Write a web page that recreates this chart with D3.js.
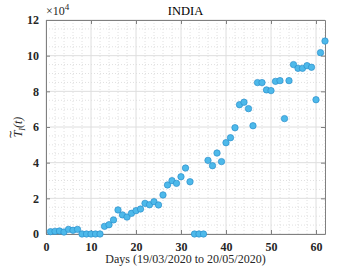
<!DOCTYPE html>
<html>
<head>
<meta charset="utf-8">
<script src="https://cdn.jsdelivr.net/npm/d3@7"></script>
<style>
  body { margin: 0; background: #fff; }
  text { font-family: "Liberation Serif", "Times New Roman", serif; }
  .tick text { font-family: "Liberation Serif", serif; font-weight: bold; font-size: 12px; fill: #262626; }
</style>
</head>
<body>
<div id="graph"></div>
<script>
// data (values in units of 1e4)
var days = d3.range(1, 63);
var values = [
  0.13, 0.15, 0.17, 0.11, 0.26, 0.21, 0.26, 0, 0, 0,
  0, 0, 0.43, 0.52, 0.79, 1.35, 1.07, 0.95, 1.16, 1.31,
  1.40, 1.72, 1.64, 1.81, 1.63, 2.19, 2.75, 2.99, 2.84, 3.21,
  3.70, 2.93, 0, 0, 0, 4.13, 3.83, 4.54, 4.06, 5.12,
  5.40, 5.96, 7.25, 7.39, 7.03, 6.07, 8.49, 8.49, 8.08, 8.04,
  8.56, 8.60, 6.47, 8.60, 9.50, 9.29, 9.29, 9.44, 9.35, 7.53,
  10.17, 10.82
];
var xTicks = [0, 10, 20, 30, 40, 50, 60];
var yTicks = [0, 2, 4, 6, 8, 10, 12];
var title = "INDIA";
var xLabel = "Days (19/03/2020 to 20/05/2020)";

// set the dimensions and margins of the graph
var margin = {top: 20, right: 34, bottom: 35, left: 46},
    width = 359 - margin.left - margin.right,
    height = 269 - margin.top - margin.bottom;

var x = d3.scaleLinear().domain([0, 62]).range([0, width]);
var y = d3.scaleLinear().domain([0, 12]).range([height, 0]);

var svg = d3.select("#graph").append("svg")
    .attr("width", 359)
    .attr("height", 269)
  .append("g")
    .attr("transform", "translate(" + margin.left + "," + margin.top + ")");

// minor grid (dotted)
svg.append("g").selectAll("line")
    .data(d3.range(0, 63, 2).filter(function(d) { return d % 10 != 0; }))
  .enter().append("line")
    .attr("x1", function(d) { return x(d); })
    .attr("x2", function(d) { return x(d); })
    .attr("y1", 0).attr("y2", height)
    .style("stroke", "#e0e0e0").style("stroke-dasharray", "1,2");
svg.append("g").selectAll("line")
    .data(d3.range(0, 12.01, 0.5).filter(function(d) { return d % 2 != 0; }))
  .enter().append("line")
    .attr("y1", function(d) { return y(d); })
    .attr("y2", function(d) { return y(d); })
    .attr("x1", 0).attr("x2", width)
    .style("stroke", "#e0e0e0").style("stroke-dasharray", "1,2");

// major grid
svg.append("g").selectAll("line")
    .data(xTicks)
  .enter().append("line")
    .attr("x1", function(d) { return x(d); })
    .attr("x2", function(d) { return x(d); })
    .attr("y1", 0).attr("y2", height)
    .style("stroke", "#dedede");
svg.append("g").selectAll("line")
    .data(yTicks)
  .enter().append("line")
    .attr("y1", function(d) { return y(d); })
    .attr("y2", function(d) { return y(d); })
    .attr("x1", 0).attr("x2", width)
    .style("stroke", "#dedede");

// axes (ticks pointing inside)
var xAxis = svg.append("g")
    .attr("transform", "translate(0," + height + ")")
    .call(d3.axisBottom(x).tickValues(xTicks).tickSizeInner(-4).tickSizeOuter(0).tickPadding(8));
var xAxisTop = svg.append("g")
    .call(d3.axisTop(x).tickValues(xTicks).tickSizeInner(-4).tickSizeOuter(0).tickFormat(""));
var yAxis = svg.append("g")
    .call(d3.axisLeft(y).tickValues(yTicks).tickSizeInner(-4).tickSizeOuter(0).tickPadding(7));
var yAxisRight = svg.append("g")
    .attr("transform", "translate(" + width + ",0)")
    .call(d3.axisRight(y).tickValues(yTicks).tickSizeInner(-4).tickSizeOuter(0).tickFormat(""));

[xAxis, xAxisTop, yAxis, yAxisRight].forEach(function(a) {
  a.attr("font-family", null).attr("font-size", null);
  a.selectAll("path, line").style("stroke", "#808080");
});

// points
svg.append("g").selectAll("circle")
    .data(days)
  .enter().append("circle")
    .attr("cx", function(d) { return x(d); })
    .attr("cy", function(d, i) { return y(values[i]); })
    .attr("r", 3.2)
    .style("fill", "#4db9ea")
    .style("stroke", "#2c8fcc")
    .style("stroke-width", 0.7);

// exponent label
var ex = svg.append("text")
    .attr("x", 0)
    .attr("y", -5)
    .style("font-size", "12px")
    .style("fill", "#262626");
ex.append("tspan").text("\u00d710");
ex.append("tspan").attr("dy", -5).style("font-size", "9px").text("4");

// title
svg.append("text")
    .attr("x", width / 2)
    .attr("y", -5)
    .attr("text-anchor", "middle")
    .style("font-size", "12.5px")
    .style("fill", "#000")
    .text(title);

// x label
svg.append("text")
    .attr("x", width / 2)
    .attr("y", height + 29)
    .attr("text-anchor", "middle")
    .style("font-size", "12px")
    .style("fill", "#262626")
    .text(xLabel);

// y label with tilde
var yl = svg.append("g")
    .attr("transform", "translate(-24," + (height / 2) + ") rotate(-90)");
var ylt = yl.append("text")
    .attr("text-anchor", "middle")
    .style("font-size", "12px")
    .style("font-style", "italic")
    .style("fill", "#262626");
ylt.append("tspan").text("T");
ylt.append("tspan").attr("dy", 3).style("font-size", "8px").text("I");
ylt.append("tspan").attr("dy", -3).text("(t)");
yl.append("text")
    .attr("x", -7)
    .attr("y", -8)
    .attr("text-anchor", "middle")
    .style("font-size", "11px")
    .style("fill", "#262626")
    .text("\u223c");
</script>
</body>
</html>
